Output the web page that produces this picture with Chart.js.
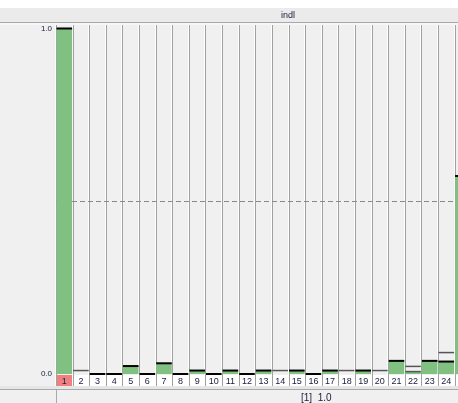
<!DOCTYPE html>
<html>
<head>
<meta charset="utf-8">
<script src="https://cdn.jsdelivr.net/npm/chart.js@4"></script>
<style>
  html, body { margin: 0; padding: 0; overflow: hidden; background: #f0f0f0; }
  canvas { display: block; }
</style>
</head>
<body>
<canvas id="chart" width="481" height="403"></canvas>
<script>
// Data
const categories = ["1","2","3","4","5","6","7","8","9","10","11","12","13","14","15","16","17","18","19","20","21","22","23","24","25"];
const barValues = [1.0, null, 0, 0, 0.023, 0, 0.031, 0, 0.01, 0, 0.01, 0, 0.01, null, 0.01, 0, 0.01, null, 0.01, null, 0.038, 0.006, 0.038, 0.036, 0.573];
const topValues = [1.0, null, 0, 0, 0.023, 0, 0.031, 0, 0.01, 0, 0.01, 0, 0.01, null, 0.01, 0, 0.01, null, 0.01, null, 0.038, null, 0.038, 0.036, 0.573];
const markerValues = [null, 0.01, null, null, null, null, null, null, null, null, null, null, null, 0.01, null, null, null, 0.01, null, 0.01, null, 0.022, null, 0.062, null];
const markerValues2 = [null, null, null, null, null, null, null, null, null, null, null, null, null, null, null, null, null, null, null, null, null, 0.007, null, null, null];
const yTicks = [0, 1];
const refValue = 0.5;
const selectedIndex = 0;
const titleText = "indl";
const footerText = "[1]  1.0";

const FONT = "'Liberation Sans', Arial, sans-serif";
const TEXT = "#202040";

// panel background, separators, label row, header and footer
const panelPlugin = {
  id: "panel",
  beforeDraw(chart) {
    const { ctx, chartArea: a, scales: { x, y } } = chart;
    const W = chart.width, H = chart.height;
    ctx.save();
    ctx.fillStyle = "#f0f0f0";
    ctx.fillRect(0, 0, W, H);
    ctx.fillStyle = "#ffffff";
    ctx.fillRect(0, 0, W, 8);

    // header band
    ctx.fillStyle = "#ebebeb";
    ctx.fillRect(0, 8, W, 14);
    ctx.fillStyle = "#a8a8a8";
    ctx.fillRect(0, 22, W, 1);
    ctx.fillStyle = "#f6f6f6";
    ctx.fillRect(0, 23, W, 2);
    ctx.fillStyle = TEXT;
    ctx.font = "9px " + FONT;
    ctx.textAlign = "center";
    ctx.textBaseline = "middle";
    ctx.fillText(titleText, 288, 15.5);

    // label row
    const step = x.getPixelForValue(1) - x.getPixelForValue(0);
    ctx.fillStyle = "#ffffff";
    ctx.fillRect(a.left, a.bottom, W - a.left, x.bottom - a.bottom);
    const sx = x.getPixelForValue(selectedIndex);
    ctx.fillStyle = "#f08080";
    ctx.fillRect(Math.round(sx - step / 2) + 1, a.bottom, Math.round(step) - 2, x.bottom - a.bottom);

    // footer
    ctx.fillStyle = "#e6e6e6";
    ctx.fillRect(0, x.bottom, W, 3);
    ctx.fillStyle = "#a8a8a8";
    ctx.fillRect(0, x.bottom + 3, W, 1);
    ctx.fillRect(Math.round(a.left), x.bottom + 3, 1, H - x.bottom - 3);
    ctx.fillStyle = TEXT;
    ctx.font = "10px " + FONT;
    ctx.textAlign = "left";
    ctx.fillText(footerText, 301, 398);

    // column separators
    for (let i = 0; i <= categories.length; i++) {
      const edge = Math.round(x.getPixelForValue(i) - step / 2);
      ctx.fillStyle = "#ffffff";
      ctx.fillRect(edge - 1, a.top, 1, x.bottom - a.top);
      ctx.fillStyle = "#a0a0a0";
      ctx.fillRect(edge, a.top, 1, x.bottom - a.top);
    }

    // reference dashed line
    const ry = Math.round(y.getPixelForValue(refValue)) + 0.5;
    ctx.strokeStyle = "#8a8a8a";
    ctx.lineWidth = 1;
    ctx.setLineDash([5, 3]);
    ctx.beginPath();
    ctx.moveTo(a.left, ry);
    ctx.lineTo(a.right, ry);
    ctx.stroke();
    ctx.restore();
  }
};

new Chart(document.getElementById("chart"), {
  type: "bar",
  data: {
    labels: categories,
    datasets: [
      {
        label: "top",
        type: "line",
        data: topValues,
        showLine: false,
        pointStyle: "line",
        pointRadius: 7.8,
        pointBorderWidth: 2,
        pointBorderColor: "#000000",
        pointBackgroundColor: "#000000",
        clip: false,
        order: 1
      },
      {
        label: "marker",
        type: "line",
        data: markerValues,
        showLine: false,
        pointStyle: "line",
        pointRadius: 7.8,
        pointBorderWidth: 1.5,
        pointBorderColor: "#555555",
        clip: false,
        order: 1
      },
      {
        label: "marker2",
        type: "line",
        data: markerValues2,
        showLine: false,
        pointStyle: "line",
        pointRadius: 7.8,
        pointBorderWidth: 1.5,
        pointBorderColor: "#555555",
        clip: false,
        order: 1
      },
      {
        label: "value",
        data: barValues,
        backgroundColor: "#80c080",
        borderWidth: 0,
        barPercentage: 0.94,
        categoryPercentage: 1,
        order: 2
      }
    ]
  },
  options: {
    responsive: false,
    animation: false,
    events: [],
    layout: { padding: { top: 25, left: 0, right: 0, bottom: 17 } },
    plugins: {
      legend: { display: false },
      tooltip: { enabled: false },
      title: { display: false }
    },
    scales: {
      x: {
        offset: true,
        grid: { display: false, drawTicks: false },
        border: { display: false },
        ticks: {
          color: TEXT,
          font: { size: 9, family: FONT },
          padding: 1,
          maxRotation: 0,
          autoSkip: false
        },
        afterFit(scale) { scale.height = 11; }
      },
      y: {
        min: -0.0029,
        max: 1.0101,
        grid: { display: false, drawTicks: false },
        border: { display: false },
        afterBuildTicks(scale) { scale.ticks = yTicks.map(v => ({ value: v })); },
        ticks: {
          color: TEXT,
          font: { size: 8, family: FONT },
          padding: 4,
          callback: v => Number(v).toFixed(1)
        },
        afterFit(scale) { scale.width = 56; }
      }
    }
  },
  plugins: [panelPlugin]
});
</script>
</body>
</html>
